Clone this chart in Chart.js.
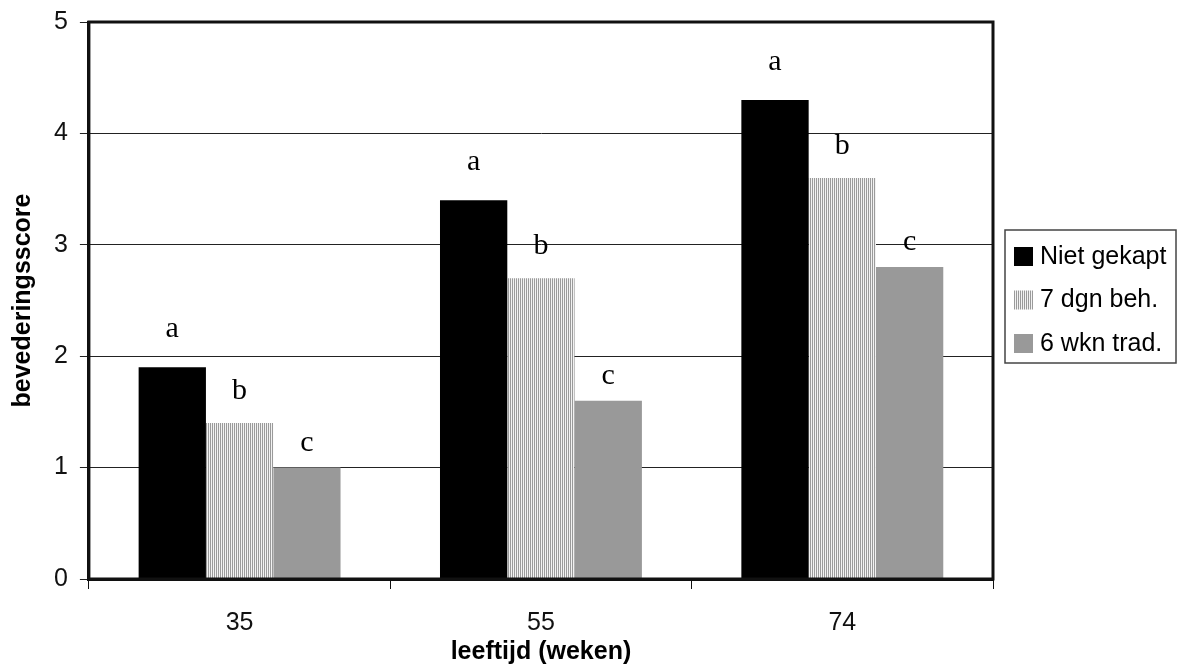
<!DOCTYPE html>
<html>
<head>
<meta charset="utf-8">
<script src="https://cdn.jsdelivr.net/npm/chart.js@4"></script>
<style>
  html, body { margin: 0; padding: 0; background: #fff; }
  #wrap { width: 1177px; height: 666px; }
</style>
</head>
<body>
<div id="wrap"><canvas id="myChart" width="1177" height="666"></canvas></div>
<script>
const weeks = ["35", "55", "74"];
const seriesNames = ["Niet gekapt", "7 dgn beh.", "6 wkn trad."];
const nietGekapt = [1.9, 3.4, 4.3];
const dgnBeh = [1.4, 2.7, 3.6];
const wknTrad = [1.0, 1.6, 2.8];
const letters = ["a", "b", "c"];

const SANS = "'Liberation Sans', Arial, sans-serif";

// vertical stripes for the middle series
function stripes() {
    const c = document.createElement("canvas");
    c.width = 2; c.height = 4;
    const g = c.getContext("2d");
    g.fillStyle = "#f2f2f2"; g.fillRect(0, 0, 2, 4);
    g.fillStyle = "#9a9a9a"; g.fillRect(0, 0, 1, 4);
    return g.createPattern(c, "repeat");
}

window.onload = () => {
    const ctx = document.getElementById("myChart").getContext("2d");
    const fills = ["#000000", stripes(), "#999999"];
    const letterGap = [30, 24, 17];

    const data = {
        labels: weeks,
        datasets: [nietGekapt, dgnBeh, wknTrad].map((vals, i) => ({
            label: seriesNames[i],
            data: vals,
            backgroundColor: fills[i],
            borderWidth: 0,
            categoryPercentage: 0.67,
            barPercentage: 1.0
        }))
    };

    const extras = {
        id: "extras",
        afterDatasetsDraw(chart) {
            const c = chart.ctx;
            const a = chart.chartArea;
            // frame
            c.save();
            c.strokeStyle = "#111";
            c.lineWidth = 3;
            c.beginPath();
            c.moveTo(a.left, a.bottom);
            c.lineTo(a.left, a.top);
            c.lineTo(a.right, a.top);
            c.lineTo(a.right, a.bottom);
            c.lineTo(a.left, a.bottom);
            c.stroke();

            // significance letters
            c.fillStyle = "#000";
            c.font = "30px 'Liberation Serif', 'DejaVu Serif', serif";
            c.textAlign = "center";
            c.textBaseline = "alphabetic";
            chart.data.datasets.forEach((ds, i) => {
                chart.getDatasetMeta(i).data.forEach(bar => {
                    c.fillText(letters[i], bar.x, bar.y - letterGap[i]);
                });
            });

            // legend
            const lx = 1005, ly = 230;
            c.fillStyle = "#fff";
            c.fillRect(lx, ly, 171, 133);
            c.strokeStyle = "#444";
            c.lineWidth = 1.5;
            c.strokeRect(lx, ly, 171, 133);
            c.font = "25px " + SANS;
            c.textAlign = "left";
            c.textBaseline = "middle";
            chart.data.datasets.forEach((ds, i) => {
                const y = ly + 26 + i * 43.5;
                c.fillStyle = ds.backgroundColor;
                c.fillRect(lx + 9, y - 9, 19, 19);
                c.fillStyle = "#000";
                c.fillText(ds.label, lx + 35, y + 1);
            });
            c.restore();
        }
    };

    new Chart(ctx, {
        type: "bar",
        data,
        plugins: [extras],
        options: {
            responsive: false,
            animation: false,
            layout: { padding: { top: 6, right: 184, bottom: 1, left: 11 } },
            plugins: {
                legend: { display: false },
                tooltip: { enabled: false }
            },
            scales: {
                x: {
                    grid: {
                        offset: true,
                        drawOnChartArea: false,
                        color: "#111",
                        tickLength: 10
                    },
                    border: { color: "#111", width: 3 },
                    ticks: {
                        color: "#111",
                        padding: 22,
                        font: { family: SANS, size: 25, lineHeight: 1 }
                    },
                    title: {
                        display: true,
                        text: "leeftijd (weken)",
                        color: "#000",
                        padding: { top: -18, bottom: 0 },
                        font: { family: SANS, size: 25, weight: "bold", lineHeight: 1 }
                    }
                },
                y: {
                    min: 0,
                    max: 5,
                    ticks: {
                        stepSize: 1,
                        color: "#111",
                        padding: 12,
                        font: { family: SANS, size: 25, lineHeight: 0.8 }
                    },
                    grid: {
                        color: "#222",
                        lineWidth: 1,
                        tickLength: 9
                    },
                    border: { color: "#111", width: 3 },
                    title: {
                        display: true,
                        text: "bevederingsscore",
                        color: "#000",
                        padding: { top: 0, bottom: 6 },
                        font: { family: SANS, size: 25, weight: "bold", lineHeight: 1 }
                    }
                }
            }
        }
    });
};
</script>
</body>
</html>
